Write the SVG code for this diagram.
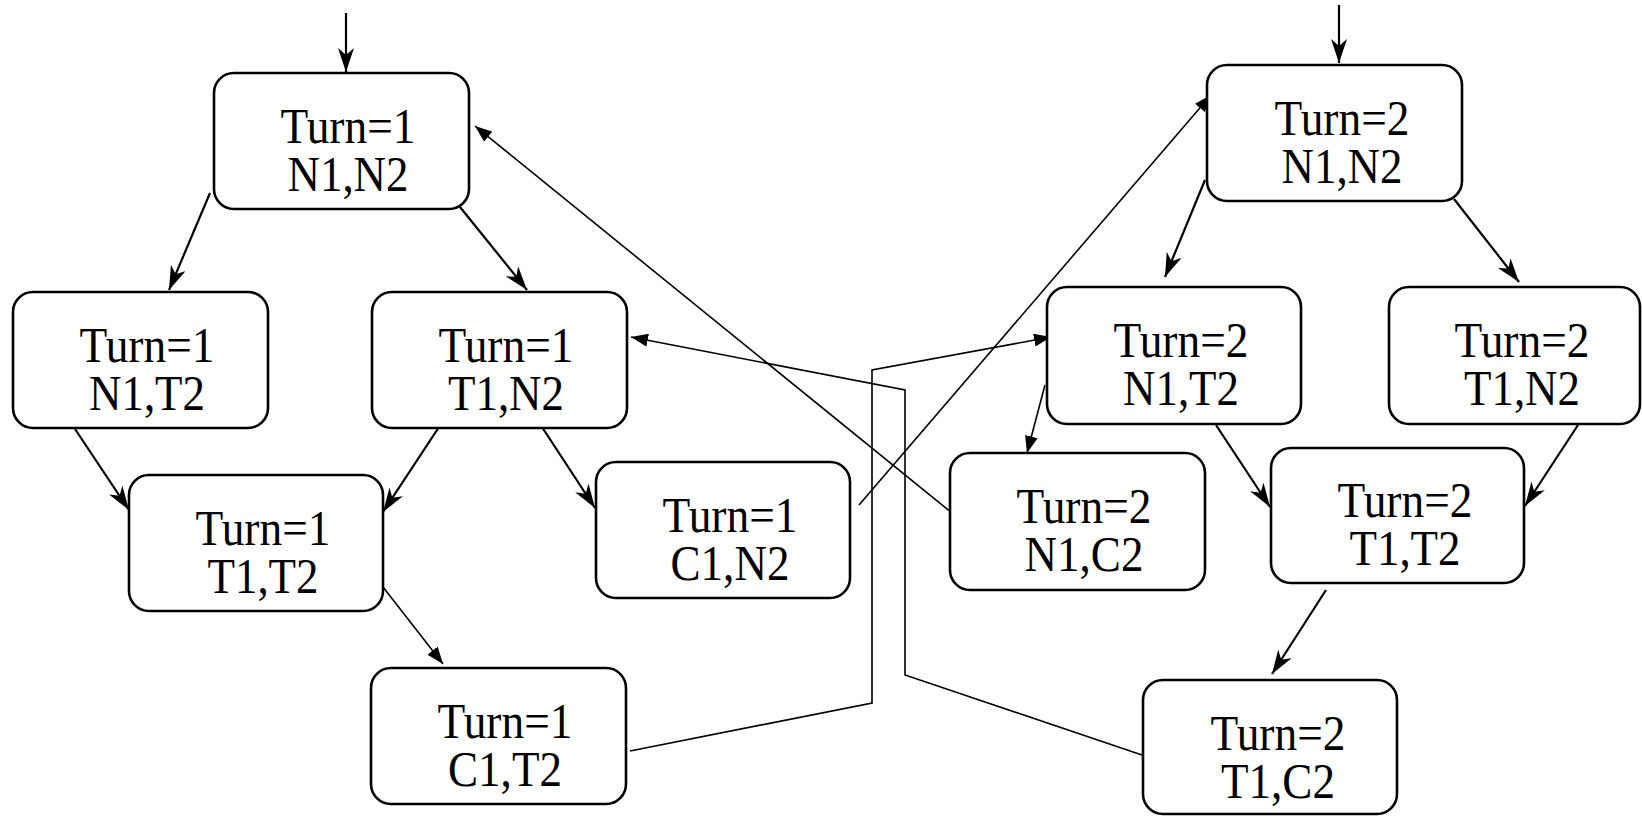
<svg xmlns="http://www.w3.org/2000/svg" width="1642" height="816" viewBox="0 0 1642 816">
<style>
.box{fill:#fff;stroke:#000;stroke-width:2.6}
.t{font-family:"Liberation Serif","Times New Roman",serif;font-size:50px;fill:#000;text-anchor:middle}
.e{fill:none;stroke:#000;stroke-width:2.2}
.x{fill:none;stroke:#000;stroke-width:1.6}
</style>
<defs>
<marker id="st" viewBox="0 0 24 16" refX="24" refY="8" markerWidth="24" markerHeight="16" orient="auto" markerUnits="userSpaceOnUse"><path d="M0,0 L24,8 L0,16 L7,8 Z" fill="#000"/></marker>
<marker id="tr" viewBox="0 0 17 13" refX="17" refY="6.5" markerWidth="17" markerHeight="13" orient="auto" markerUnits="userSpaceOnUse"><path d="M0,0 L17,6.5 L0,13 Z" fill="#000"/></marker>
</defs>
<g id="connectors">
<line class="e" x1="346" y1="13" x2="346" y2="72" marker-end="url(#st)"/>
<line class="e" x1="1339" y1="5" x2="1339" y2="63" marker-end="url(#st)"/>
<line class="e" x1="210" y1="193" x2="169" y2="290" marker-end="url(#st)"/>
<line class="e" x1="460" y1="207" x2="527" y2="290" marker-end="url(#st)"/>
<line class="e" x1="75" y1="429" x2="129" y2="510" marker-end="url(#st)"/>
<line class="e" x1="439" y1="427" x2="383" y2="512" marker-end="url(#st)"/>
<line class="e" x1="540" y1="424" x2="595" y2="508" marker-end="url(#st)"/>
<line class="x" x1="383" y1="587" x2="443" y2="664" marker-end="url(#tr)"/>
<line class="e" x1="1205" y1="180" x2="1165" y2="277" marker-end="url(#st)"/>
<line class="e" x1="1454" y1="199" x2="1519" y2="282" marker-end="url(#st)"/>
<line class="x" x1="1045" y1="385" x2="1027" y2="453" marker-end="url(#tr)"/>
<line class="e" x1="1216" y1="425" x2="1270" y2="507" marker-end="url(#st)"/>
<line class="e" x1="1578" y1="425" x2="1525" y2="506" marker-end="url(#st)"/>
<line class="e" x1="1326" y1="590" x2="1272" y2="674" marker-end="url(#st)"/>
<polyline class="x" points="630,751 872,703 872,370 1051,337" marker-end="url(#tr)"/>
<polyline class="x" points="1142,755 905,675 905,390 631,337" marker-end="url(#tr)"/>
<line class="x" x1="859" y1="505" x2="1211" y2="95" marker-end="url(#tr)"/>
<line class="x" x1="952" y1="513" x2="475" y2="126" marker-end="url(#tr)"/>
</g>
<g id="n1"><rect class="box" x="214" y="73" width="255" height="136" rx="20"/><text class="t"><tspan x="348" y="143" textLength="135" lengthAdjust="spacingAndGlyphs">Turn=1</tspan><tspan x="348" y="191" textLength="121" lengthAdjust="spacingAndGlyphs">N1,N2</tspan></text></g>
<g id="n2"><rect class="box" x="13" y="292" width="255" height="136" rx="20"/><text class="t"><tspan x="147" y="362" textLength="135" lengthAdjust="spacingAndGlyphs">Turn=1</tspan><tspan x="147" y="410" textLength="116" lengthAdjust="spacingAndGlyphs">N1,T2</tspan></text></g>
<g id="n3"><rect class="box" x="372" y="292" width="255" height="136" rx="20"/><text class="t"><tspan x="506" y="362" textLength="135" lengthAdjust="spacingAndGlyphs">Turn=1</tspan><tspan x="506" y="410" textLength="116" lengthAdjust="spacingAndGlyphs">T1,N2</tspan></text></g>
<g id="n4"><rect class="box" x="129" y="475" width="254" height="136" rx="20"/><text class="t"><tspan x="263" y="545" textLength="135" lengthAdjust="spacingAndGlyphs">Turn=1</tspan><tspan x="263" y="593" textLength="111" lengthAdjust="spacingAndGlyphs">T1,T2</tspan></text></g>
<g id="n5"><rect class="box" x="596" y="462" width="254" height="136" rx="20"/><text class="t"><tspan x="730" y="532" textLength="135" lengthAdjust="spacingAndGlyphs">Turn=1</tspan><tspan x="730" y="580" textLength="119" lengthAdjust="spacingAndGlyphs">C1,N2</tspan></text></g>
<g id="n6"><rect class="box" x="371" y="668" width="255" height="136" rx="20"/><text class="t"><tspan x="505" y="738" textLength="135" lengthAdjust="spacingAndGlyphs">Turn=1</tspan><tspan x="505" y="786" textLength="114" lengthAdjust="spacingAndGlyphs">C1,T2</tspan></text></g>
<g id="n7"><rect class="box" x="1207" y="65" width="255" height="136" rx="20"/><text class="t"><tspan x="1342" y="135" textLength="135" lengthAdjust="spacingAndGlyphs">Turn=2</tspan><tspan x="1342" y="183" textLength="121" lengthAdjust="spacingAndGlyphs">N1,N2</tspan></text></g>
<g id="n8"><rect class="box" x="1047" y="287" width="254" height="137" rx="20"/><text class="t"><tspan x="1181" y="357" textLength="135" lengthAdjust="spacingAndGlyphs">Turn=2</tspan><tspan x="1181" y="405" textLength="116" lengthAdjust="spacingAndGlyphs">N1,T2</tspan></text></g>
<g id="n9"><rect class="box" x="1389" y="287" width="251" height="137" rx="20"/><text class="t"><tspan x="1522" y="357" textLength="135" lengthAdjust="spacingAndGlyphs">Turn=2</tspan><tspan x="1522" y="405" textLength="116" lengthAdjust="spacingAndGlyphs">T1,N2</tspan></text></g>
<g id="n10"><rect class="box" x="950" y="453" width="255" height="137" rx="20"/><text class="t"><tspan x="1084" y="523" textLength="135" lengthAdjust="spacingAndGlyphs">Turn=2</tspan><tspan x="1084" y="571" textLength="119" lengthAdjust="spacingAndGlyphs">N1,C2</tspan></text></g>
<g id="n11"><rect class="box" x="1271" y="448" width="253" height="135" rx="20"/><text class="t"><tspan x="1405" y="517" textLength="135" lengthAdjust="spacingAndGlyphs">Turn=2</tspan><tspan x="1405" y="565" textLength="111" lengthAdjust="spacingAndGlyphs">T1,T2</tspan></text></g>
<g id="n12"><rect class="box" x="1143" y="680" width="254" height="134" rx="20"/><text class="t"><tspan x="1278" y="750" textLength="135" lengthAdjust="spacingAndGlyphs">Turn=2</tspan><tspan x="1278" y="798" textLength="114" lengthAdjust="spacingAndGlyphs">T1,C2</tspan></text></g>
</svg>
